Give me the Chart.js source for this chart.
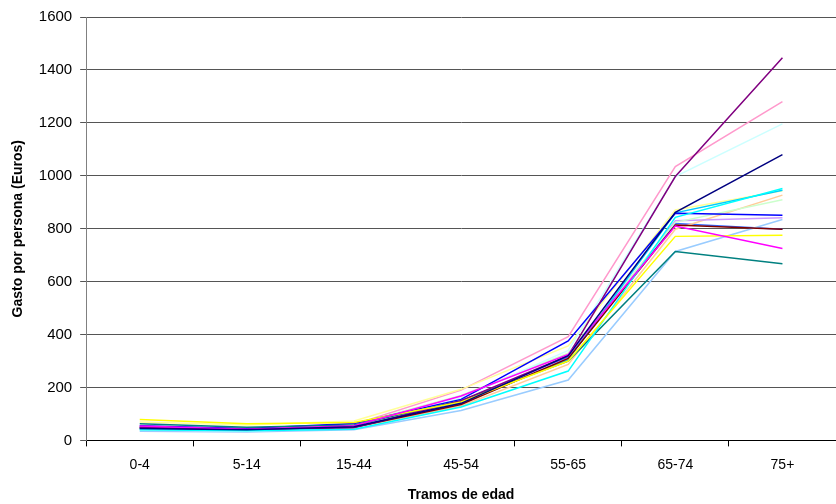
<!DOCTYPE html>
<html>
<head>
<meta charset="utf-8">
<script src="https://cdn.jsdelivr.net/npm/chart.js@4/dist/chart.umd.min.js"></script>
<style>
  html, body { margin: 0; padding: 0; background: #fff; }
  #wrap { width: 836px; height: 504px; position: relative; }
</style>
</head>
<body>
<div id="wrap"><canvas id="grafico"></canvas></div>
<script>
// tramos de edad
const tramos = ["0-4", "5-14", "15-44", "45-54", "55-65", "65-74", "75+"];

// gasto por persona, una serie por línea
const serie01 = [45, 40, 52, 140, 320, 862, 1080];
const serie02 = [54, 42, 55, 168, 325, 810, 725];
const serie03 = [79, 63, 68, 145, 300, 771, 775];
const serie04 = [40, 36, 42, 126, 262, 843, 952];
const serie05 = [50, 40, 48, 150, 320, 997, 1446];
const serie06 = [48, 40, 50, 136, 310, 814, 798];
const serie07 = [63, 50, 58, 150, 300, 714, 668];
const serie08 = [55, 45, 64, 155, 376, 858, 851];
const serie09 = [44, 38, 50, 140, 305, 860, 945];
const serie10 = [40, 35, 48, 160, 340, 997, 1196];
const serie11 = [50, 45, 60, 170, 330, 824, 909];
const serie12 = [70, 58, 73, 193, 357, 871, 943];
const serie13 = [35, 32, 40, 113, 228, 714, 835];
const serie14 = [52, 45, 60, 190, 392, 1035, 1280];
const serie15 = [45, 40, 52, 150, 310, 830, 841];
const serie16 = [42, 38, 48, 130, 287, 798, 927];
const serie17 = [47, 40, 52, 148, 315, 820, 798];

const series = [serie01, serie02, serie03, serie04, serie05, serie06, serie07, serie08, serie09,
                serie10, serie11, serie12, serie13, serie14, serie15, serie16, serie17];

const colores = ["#000080", "#FF00FF", "#FFFF00", "#00FFFF", "#800080", "#800000", "#008080",
                 "#0000FF", "#00CCFF", "#CCFFFF", "#CCFFCC", "#FFFF99", "#99CCFF", "#FF99CC",
                 "#CC99FF", "#FFCC99", "#3366FF"];

const datasets = series.map((s, i) => ({
    label: "Serie " + (i + 1),
    data: s,
    borderColor: colores[i],
    backgroundColor: colores[i],
    borderWidth: 1.5,
    pointRadius: 0,
    tension: 0,
    fill: false
}));

const fuente = 'Liberation Sans, Arial';
const ctx = document.getElementById("grafico").getContext("2d");

new Chart(ctx, {
    type: 'line',
    data: { labels: tramos, datasets: datasets },
    options: {
        responsive: true,
        maintainAspectRatio: false,
        animation: false,
        layout: { padding: { left: 10, right: 0, top: 11, bottom: 0 } },
        plugins: {
            legend: { display: false },
            tooltip: { enabled: false }
        },
        scales: {
            x: {
                offset: true,
                grid: {
                    offset: true,
                    drawOnChartArea: false,
                    drawTicks: true,
                    tickLength: 6,
                    color: '#000'
                },
                border: { color: '#000', width: 1 },
                ticks: { color: '#000', font: { family: fuente, size: 14 }, padding: 10 },
                title: {
                    display: true,
                    text: 'Tramos de edad',
                    color: '#000',
                    font: { family: fuente, size: 14, weight: 'bold' },
                    padding: { top: 4, bottom: 0 }
                }
            },
            y: {
                min: 0,
                max: 1600,
                ticks: {
                    stepSize: 200,
                    color: '#000',
                    font: { family: fuente, size: 15 },
                    padding: 8,
                    callback: v => String(v)
                },
                grid: { color: '#555', lineWidth: 1, tickLength: 6 },
                border: { color: '#808080', width: 1 },
                title: {
                    display: true,
                    text: 'Gasto por persona (Euros)',
                    color: '#000',
                    font: { family: fuente, size: 14, weight: 'bold' },
                    padding: { top: 0, bottom: 4 }
                }
            }
        }
    }
});
</script>
</body>
</html>
